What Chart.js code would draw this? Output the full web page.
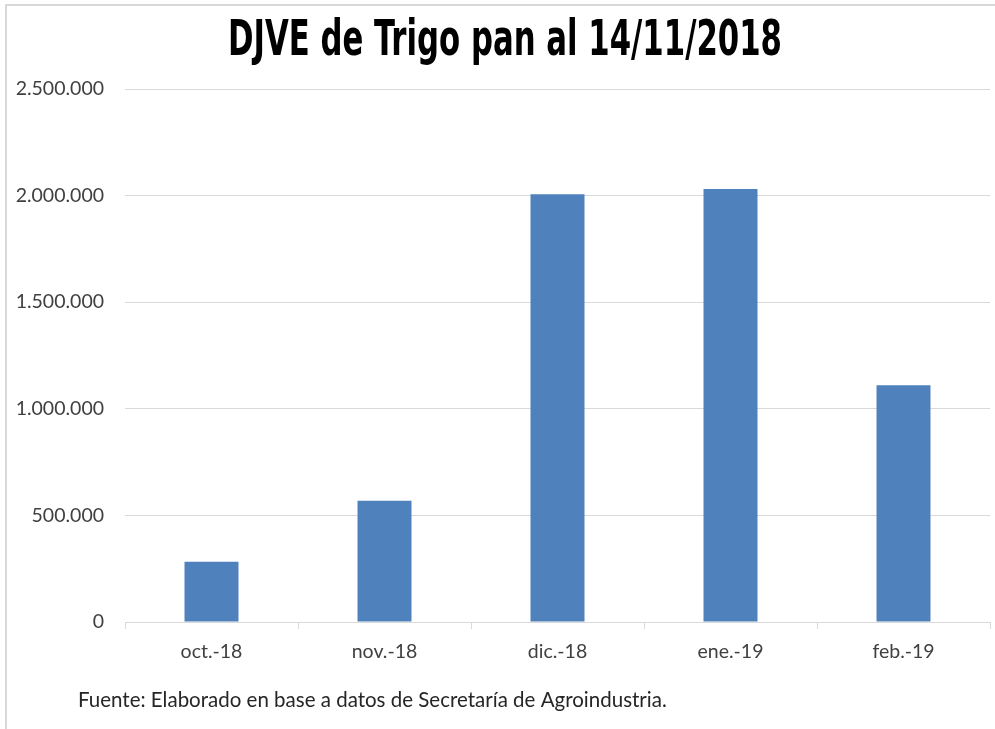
<!DOCTYPE html>
<html>
<head>
<meta charset="utf-8">
<script src="https://cdn.jsdelivr.net/npm/chart.js@4/dist/chart.umd.min.js"></script>
<style>
  html, body { margin: 0; padding: 0; background: #fff; }
  #wrap { width: 995px; height: 729px; position: relative; }
</style>
</head>
<body>
<div id="wrap"><canvas id="djveChart" width="995" height="729"></canvas></div>
<script>
// data
const months = ["oct.-18", "nov.-18", "dic.-18", "ene.-19", "feb.-19"];
const tonnes = [283000, 569000, 2006000, 2031000, 1111000];
const yTicks = [0, 500000, 1000000, 1500000, 2000000, 2500000];

const chartTitle = "DJVE de Trigo pan al 14/11/2018";
const sourceNote = "Fuente: Elaborado en base a datos de Secretaría de Agroindustria.";

const ctx = document.getElementById("djveChart");

// formats 2500000 -> 2.500.000
const fmt = (v) => String(v).replace(/\B(?=(\d{3})+(?!\d))/g, ".");

// frame, title and footnote
const textPlugin = {
    id: "texts",
    beforeDraw: (chart) => {
        const c = chart.ctx;
        c.save();
        c.fillStyle = "#fff";
        c.fillRect(0, 0, chart.width, chart.height);
        c.strokeStyle = "#d9d9d9";
        c.lineWidth = 2;
        c.beginPath();
        c.moveTo(6, 729);
        c.lineTo(6, 5);
        c.lineTo(995, 5);
        c.stroke();
        c.restore();
    },
    afterDraw: (chart) => {
        const c = chart.ctx;
        c.save();
        // title, fitted to its width in the reference
        c.font = 'bold 50px "Liberation Sans Narrow", "DejaVu Sans Condensed", sans-serif';
        const w = c.measureText(chartTitle).width;
        c.setTransform(554 / w, 0, 0, 1, 505, 42);
        c.fillStyle = "#000";
        c.textAlign = "center";
        c.textBaseline = "middle";
        c.fillText(chartTitle, 0, 0);
        c.setTransform(1, 0, 0, 1, 0, 0);
        // source
        c.font = '20.5px Lato, "Open Sans", sans-serif';
        c.fillStyle = "#262626";
        c.textAlign = "left";
        c.textBaseline = "middle";
        c.fillText(sourceNote, 78, 700);
        c.restore();
    }
};

const djveChart = new Chart(ctx, {
    type: "bar",
    data: {
        labels: months,
        datasets: [{
            label: "DJVE",
            data: tonnes,
            backgroundColor: "#4f81bd",
            borderWidth: 0,
            barPercentage: 0.312,
            categoryPercentage: 1
        }]
    },
    options: {
        responsive: false,
        animation: false,
        layout: { padding: { top: 89, right: 5, bottom: 0, left: 0 } },
        plugins: {
            legend: { display: false },
            tooltip: { enabled: false }
        },
        scales: {
            x: {
                offset: true,
                grid: {
                    display: true,
                    offset: true,
                    drawOnChartArea: false,
                    drawTicks: true,
                    tickLength: 7,
                    color: "#d9d9d9"
                },
                border: { display: true, color: "#d9d9d9", width: 1 },
                ticks: {
                    color: "#404040",
                    font: { family: "Lato, 'Open Sans', sans-serif", size: 19.5 },
                    padding: 11
                },
                afterFit: (axis) => { axis.height = 729 - 622; }
            },
            y: {
                min: 0,
                max: 2500000,
                afterBuildTicks: (axis) => { axis.ticks = yTicks.map((v) => ({ value: v })); },
                grid: { color: "#d9d9d9", drawTicks: false, lineWidth: 1 },
                border: { display: false },
                ticks: {
                    color: "#404040",
                    font: { family: "Lato, 'Open Sans', sans-serif", size: 19.5 },
                    padding: 21,
                    callback: (v) => fmt(v)
                },
                afterFit: (axis) => { axis.width = 125; }
            }
        }
    },
    plugins: [textPlugin]
});
</script>
</body>
</html>
